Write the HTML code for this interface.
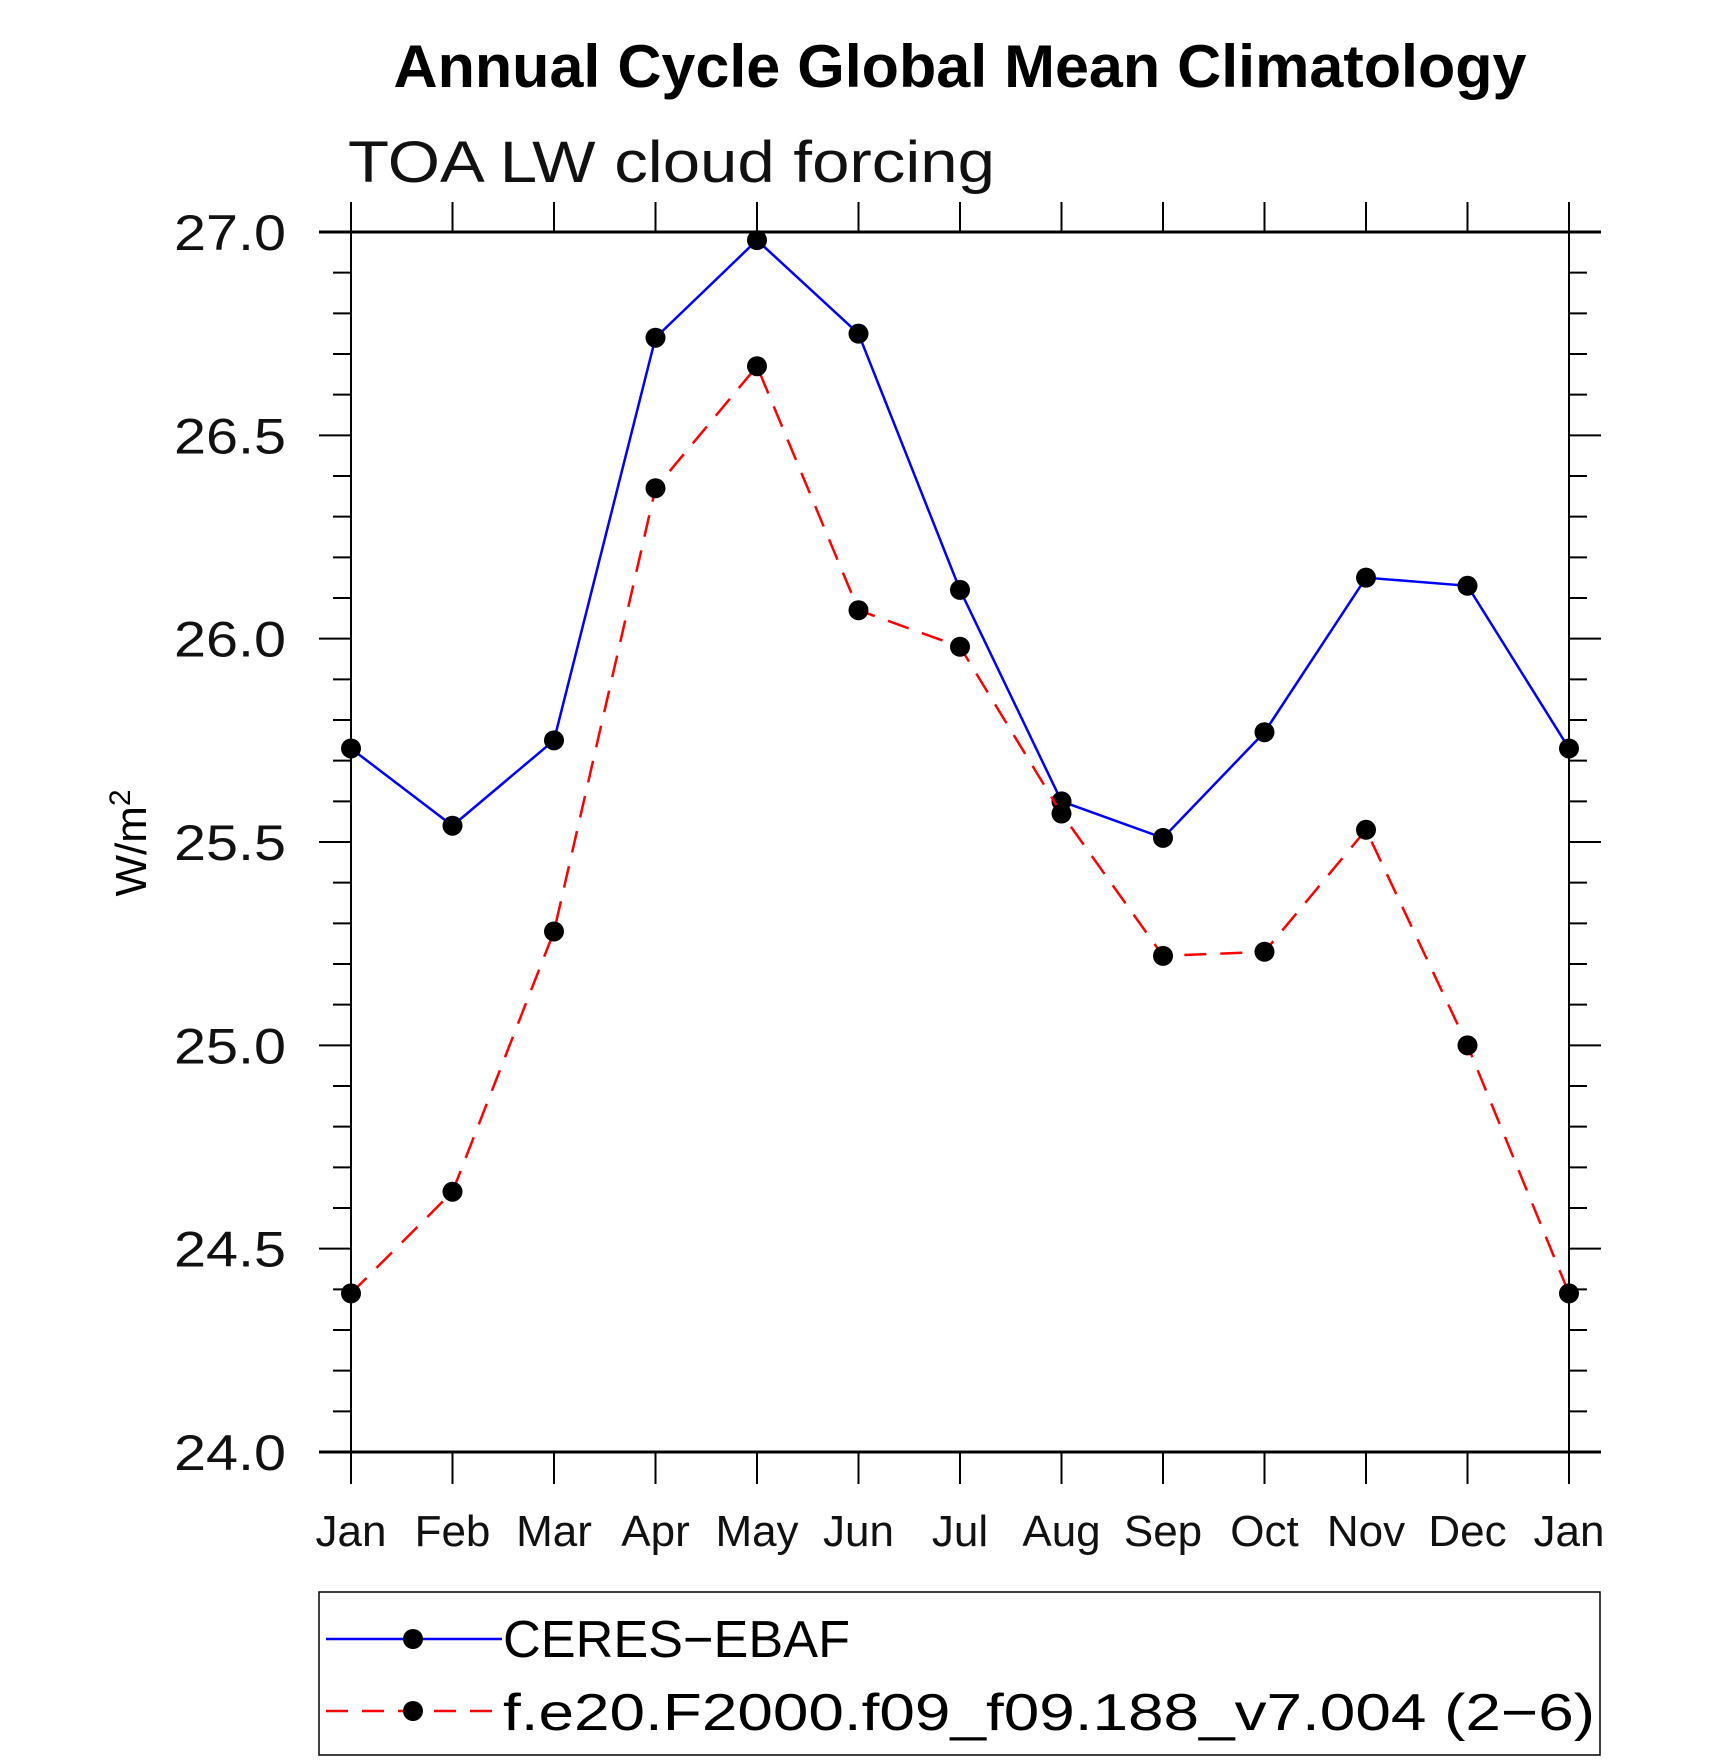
<!DOCTYPE html>
<html><head><meta charset="utf-8"><style>html,body{margin:0;padding:0;background:#fff}svg{display:block}</style></head>
<body>
<svg id="chart" width="1710" height="1762" viewBox="0 0 1710 1762" xmlns="http://www.w3.org/2000/svg" font-family="Liberation Sans, sans-serif">
<text x="960" y="87" text-anchor="middle" font-size="60" font-weight="bold" textLength="1133" lengthAdjust="spacingAndGlyphs">Annual Cycle Global Mean Climatology</text>
<text x="348" y="182" font-size="58" fill="#111" textLength="647" lengthAdjust="spacingAndGlyphs">TOA LW cloud forcing</text>
<text transform="translate(146,843) rotate(-90)" text-anchor="middle" font-size="44">W/m<tspan dy="-16" font-size="30">2</tspan></text>
<g id="axes"></g>
<g id="series"></g>
<g>
<rect x="319" y="1592" width="1281" height="163" fill="none" stroke="#000" stroke-width="1.5"/>
<line x1="326" y1="1639" x2="502" y2="1639" stroke="#0000ff" stroke-width="2.5"/>
<ellipse cx="413" cy="1639" rx="10" ry="10"/>
<text x="503" y="1657" font-size="52" textLength="347" lengthAdjust="spacingAndGlyphs">CERES−EBAF</text>
<line x1="326" y1="1711" x2="502" y2="1711" stroke="#ff0000" stroke-width="2.5" stroke-dasharray="22,14"/>
<ellipse cx="413" cy="1711" rx="10" ry="10"/>
<text x="503" y="1730" font-size="52" textLength="1092" lengthAdjust="spacingAndGlyphs">f.e20.F2000.f09_f09.188_v7.004 (2−6)</text>
</g>
</svg>
<script>
const months = ["Jan","Feb","Mar","Apr","May","Jun","Jul","Aug","Sep","Oct","Nov","Dec","Jan"];
const ceresValues = [25.73,25.54,25.75,26.74,26.98,26.75,26.12,25.60,25.51,25.77,26.15,26.13,25.73];
const modelValues = [24.39,24.64,25.28,26.37,26.67,26.07,25.98,25.57,25.22,25.23,25.53,25.00,24.39];
const yTickLabels = ["24.0","24.5","25.0","25.5","26.0","26.5","27.0"];
const yMin = 24.0, yMax = 27.0;

const NS = "http://www.w3.org/2000/svg";
const L = 351, R = 1569, T = 232, B = 1452;
const xs = i => L + i * (R - L) / (months.length - 1);
const ys = v => B - (v - yMin) / (yMax - yMin) * (B - T);
function mk(tag, attrs, parent) {
  const e = document.createElementNS(NS, tag);
  for (const k in attrs) e.setAttribute(k, attrs[k]);
  parent.appendChild(e);
  return e;
}
const ax = document.getElementById("axes");
const frame = mk("rect", {x:L, y:T, width:R-L, height:B-T, fill:"none", stroke:"#000", "stroke-width":2}, ax);


const topLine = mk("line", {x1:319, y1:T, x2:1601, y2:T, stroke:"#000", "stroke-width":3}, ax);


const botLine = mk("line", {x1:319, y1:B, x2:1601, y2:B, stroke:"#000", "stroke-width":3}, ax);


months.forEach((m, i) => {
  const x = xs(i);
  mk("line", {x1:x, y1:T-30, x2:x, y2:T, stroke:"#000", "stroke-width":2}, ax);
  mk("line", {x1:x, y1:B, x2:x, y2:B+32, stroke:"#000", "stroke-width":2}, ax);
  const t = mk("text", {x:x, y:1546, "text-anchor":"middle", "font-size":44, fill:"#111"}, ax);
  
  
  t.textContent = m;
});
for (let k = 0; k <= 30; k++) {
  const v = yMin + k * 0.1;
  const y = ys(v);
  const major = k % 5 === 0;
  const len = major ? 32 : 18;
  mk("line", {x1:L-len, y1:y, x2:L, y2:y, stroke:"#000", "stroke-width":2}, ax);
  mk("line", {x1:R, y1:y, x2:R+len, y2:y, stroke:"#000", "stroke-width":2}, ax);
}
yTickLabels.forEach(lbl => {
  const t = mk("text", {x:286, y:ys(parseFloat(lbl))+18, "text-anchor":"end", "font-size":50, fill:"#111", textLength:112, lengthAdjust:"spacingAndGlyphs"}, ax);
  
  
  t.textContent = lbl;
});
const sg = document.getElementById("series");
function drawSeries(vals, color, dash, name) {
  const pts = vals.map((v, i) => xs(i) + "," + ys(v)).join(" ");
  const pl = mk("polyline", {points:pts, fill:"none", stroke:color, "stroke-width":2.5}, sg);
  if (dash) pl.setAttribute("stroke-dasharray", dash);
  
  
  vals.forEach((v, i) => {
    const c = mk("ellipse", {cx:xs(i), cy:ys(v), rx:10, ry:10, fill:"#000"}, sg);
    
    
  });
}
drawSeries(ceresValues, "#0000ff", null, "ceres");
drawSeries(modelValues, "#ff0000", "22,14", "model");
</script>
</body></html>
